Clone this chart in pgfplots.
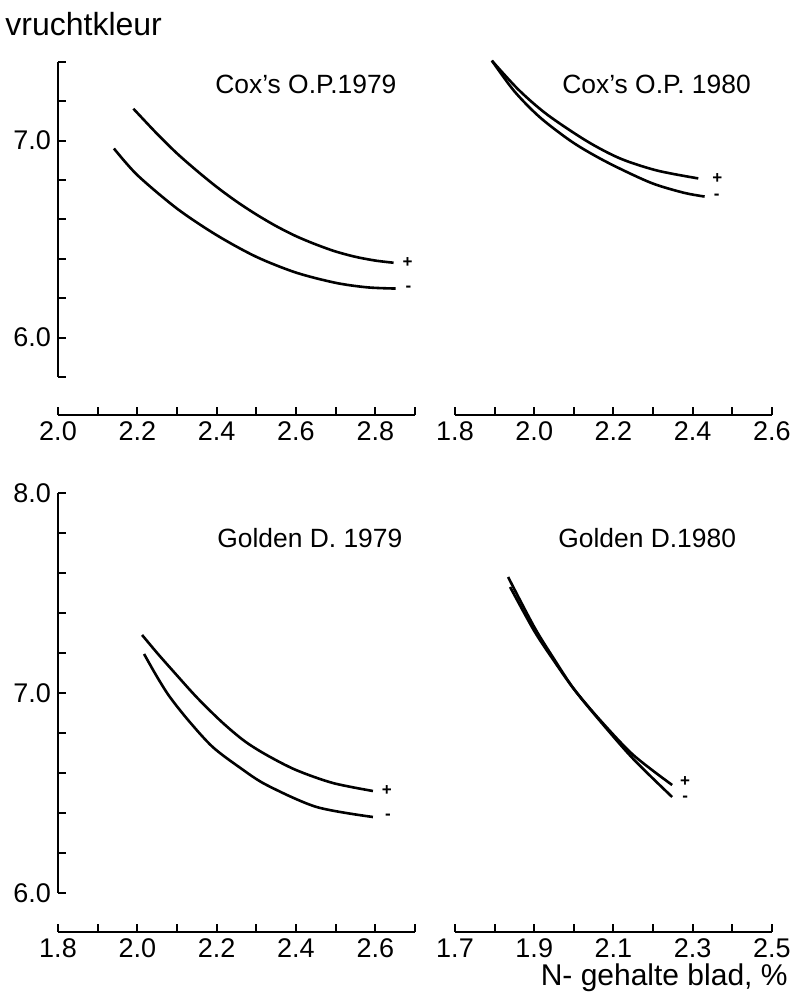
\documentclass[border=0pt]{standalone}
\usepackage{pgfplots}
\pgfplotsset{compat=1.18}
\usepackage{fontspec}
\setmainfont{Liberation Sans}

\pgfplotsset{
  base/.style={scale only axis, clip=false, tick align=inside,
    major tick length=4pt, minor tick length=4pt,
    every tick/.style={black, line width=1pt},
    every minor tick/.style={black, line width=1pt},
    axis line style={line width=1.1pt, -},
    ticklabel style={font=\fontsize{13.5}{15}\selectfont}},
  curves/.style={base, axis x line=none, xtick=\empty},
  xonly/.style={base, axis x line*=bottom, axis y line=none, ytick=\empty,
    height=10pt, ymin=0, ymax=1},
}
\tikzset{
  crv/.style={black, line width=1.3pt, smooth, mark=none},
  pm/.style={font=\fontsize{8.5}{9}\selectfont\bfseries, inner sep=0pt},
  ttl/.style={font=\fontsize{13.2}{15}\selectfont, anchor=base west, inner sep=0pt}
}

\begin{document}
\begin{tikzpicture}
\path (0,0) rectangle (396.5pt,496.5pt);

% ---------- top left: Cox's O.P. 1979 ----------
\begin{axis}[curves, at={(29pt,308pt)}, anchor=south west,
  width=178.5pt, height=157.6pt, xmin=2.0, xmax=2.9, ymin=5.8, ymax=7.4,
  axis y line*=left, ytick={6,7}, yticklabels={6.0,7.0},
  minor ytick={5.8,6.2,6.4,6.6,6.8,7.2,7.4}]
\addplot[crv] coordinates {(2.19,7.162)(2.25,7.034)(2.30,6.935)(2.35,6.847)(2.40,6.765)(2.45,6.691)(2.50,6.625)(2.55,6.566)(2.60,6.515)(2.65,6.473)(2.70,6.437)(2.75,6.41)(2.80,6.391)(2.846,6.38)}
  node[pos=1, pm, xshift=7pt] {+};
\addplot[crv] coordinates {(2.141,6.96)(2.20,6.825)(2.30,6.655)(2.40,6.52)(2.50,6.41)(2.60,6.33)(2.70,6.278)(2.78,6.255)(2.851,6.249)}
  node[pos=1, pm, xshift=6.5pt] {-};
\end{axis}
\begin{axis}[xonly, at={(29pt,289pt)}, anchor=south west,
  width=178.5pt, xmin=2.0, xmax=2.9,
  xtick={2.0,2.2,2.4,2.6,2.8}, xticklabels={2.0,2.2,2.4,2.6,2.8},
  minor xtick={2.1,2.3,2.5,2.7,2.9}]
\end{axis}

% ---------- top right: Cox's O.P. 1980 ----------
\begin{axis}[curves, at={(227.5pt,308pt)}, anchor=south west,
  width=158.5pt, height=157.6pt, xmin=1.8, xmax=2.6, ymin=5.8, ymax=7.4,
  axis y line=none, ytick=\empty]
\addplot[crv] coordinates {(1.893,7.406)(1.96,7.259)(2.032,7.133)(2.133,6.997)(2.217,6.909)(2.31,6.848)(2.414,6.808)}
  node[pos=1, pm, xshift=9.5pt] {+};
\addplot[crv] coordinates {(1.893,7.406)(1.95,7.25)(2.015,7.117)(2.098,6.99)(2.184,6.89)(2.293,6.787)(2.376,6.736)(2.43,6.716)}
  node[pos=1, pm, xshift=6pt] {-};
\end{axis}
\begin{axis}[xonly, at={(227.5pt,289pt)}, anchor=south west,
  width=158.5pt, xmin=1.8, xmax=2.6,
  xtick={1.8,2.0,2.2,2.4,2.6}, xticklabels={1.8,2.0,2.2,2.4,2.6},
  minor xtick={1.9,2.1,2.3,2.5}]
\end{axis}

% ---------- bottom left: Golden D. 1979 ----------
\begin{axis}[curves, at={(29pt,50pt)}, anchor=south west,
  width=178.5pt, height=200pt, xmin=1.8, xmax=2.7, ymin=6.0, ymax=8.0,
  axis y line*=left, ytick={6,7,8}, yticklabels={6.0,7.0,8.0},
  minor ytick={6.2,6.4,6.6,6.8,7.2,7.4,7.6,7.8}]
\addplot[crv] coordinates {(2.012,7.29)(2.05,7.2)(2.09,7.11)(2.15,6.978)(2.213,6.855)(2.27,6.76)(2.326,6.69)(2.40,6.615)(2.493,6.55)(2.594,6.51)}
  node[pos=1, pm, xshift=7pt] {+};
\addplot[crv] coordinates {(2.017,7.195)(2.05,7.08)(2.082,6.98)(2.13,6.86)(2.19,6.73)(2.26,6.625)(2.326,6.54)(2.452,6.43)(2.594,6.38)}
  node[pos=1, pm, xshift=7.5pt] {-};
\end{axis}
\begin{axis}[xonly, at={(29pt,30.5pt)}, anchor=south west,
  width=178.5pt, xmin=1.8, xmax=2.7,
  xtick={1.8,2.0,2.2,2.4,2.6}, xticklabels={1.8,2.0,2.2,2.4,2.6},
  minor xtick={1.9,2.1,2.3,2.5,2.7}]
\end{axis}

% ---------- bottom right: Golden D. 1980 ----------
\begin{axis}[curves, at={(227.5pt,50pt)}, anchor=south west,
  width=158.5pt, height=200pt, xmin=1.7, xmax=2.5, ymin=6.0, ymax=8.0,
  axis y line=none, ytick=\empty]
\addplot[crv] coordinates {(1.839,7.53)(1.9,7.31)(1.95,7.16)(2.0,7.02)(2.066,6.865)(2.15,6.69)(2.248,6.54)}
  node[pos=1, pm, xshift=6.5pt, yshift=1.5pt] {+};
\addplot[crv] coordinates {(1.834,7.58)(1.9,7.33)(1.95,7.17)(2.0,7.02)(2.066,6.86)(2.15,6.67)(2.248,6.48)}
  node[pos=1, pm, xshift=6.5pt, yshift=-1pt] {-};
\end{axis}
\begin{axis}[xonly, at={(227.5pt,30.5pt)}, anchor=south west,
  width=158.5pt, xmin=1.7, xmax=2.5,
  xtick={1.7,1.9,2.1,2.3,2.5}, xticklabels={1.7,1.9,2.1,2.3,2.5},
  minor xtick={1.8,2.0,2.2,2.4}]
\end{axis}

% ---------- texts ----------
\node[anchor=base west, inner sep=0pt, font=\fontsize{16}{18}\selectfont] at (2.5pt,478.5pt) {vruchtkleur};
\node[ttl] at (107.5pt,449.5pt) {Cox's O.P.1979};
\node[ttl] at (281pt,449.5pt) {Cox's O.P. 1980};
\node[ttl] at (108.5pt,222.5pt) {Golden D. 1979};
\node[ttl] at (279pt,222.5pt) {Golden D.1980};
\node[anchor=base east, inner sep=0pt, font=\fontsize{15}{17}\selectfont] at (394pt,3.5pt) {N- gehalte blad, \%};
\end{tikzpicture}
\end{document}
